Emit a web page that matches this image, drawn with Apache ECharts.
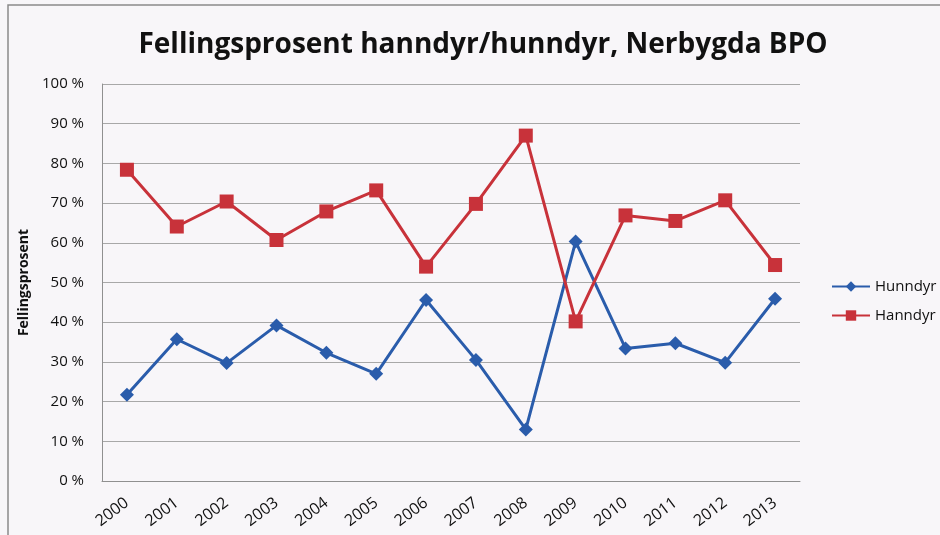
<!DOCTYPE html>
<html>
<head>
<meta charset="utf-8">
<script src="https://cdn.jsdelivr.net/npm/echarts@6/dist/echarts.min.js"></script>
<style>
html,body{margin:0;padding:0;background:#f8f6f9;}
#c{width:940px;height:535px;}
</style>
</head>
<body>
<div id="c"></div>
<script>
const years = ['2000','2001','2002','2003','2004','2005','2006','2007','2008','2009','2010','2011','2012','2013'];
const hunndyr = [21.7, 35.7, 29.7, 39.2, 32.3, 27.0, 45.6, 30.5, 13.0, 60.3, 33.4, 34.7, 29.8, 45.9];
const hanndyr = [78.4, 64.1, 70.4, 60.7, 67.9, 73.2, 54.0, 69.8, 87.0, 40.2, 66.9, 65.5, 70.7, 54.4];
const yTicks = [0, 10, 20, 30, 40, 50, 60, 70, 80, 90, 100];

const chart = echarts.init(document.getElementById('c'));
const font = 'Open Sans, Liberation Sans, sans-serif';
chart.setOption({
  backgroundColor: '#f8f6f9',
  animation: false,
  title: {
    text: 'Fellingsprosent hanndyr/hunndyr, Nerbygda BPO',
    left: 478, top: 26, textAlign: 'center',
    textStyle: {fontFamily: font, fontWeight: 'bold', fontSize: 28, color: '#111'}
  },
  graphic: [
    {type: 'rect', shape: {x: 8, y: 5, width: 940, height: 540}, style: {fill: 'none', stroke: '#8a8a8a', lineWidth: 1.5}, silent: true}
  ],
  legend: {
    orient: 'vertical', left: 826, top: 274, itemGap: 14,
    itemWidth: 38, itemHeight: 13,
    textStyle: {fontFamily: font, fontSize: 15, color: '#111'},
    data: ['Hunndyr', 'Hanndyr']
  },
  grid: {left: 102, right: 140, top: 84, bottom: 54},
  xAxis: {
    type: 'category', data: years, boundaryGap: true,
    axisLine: {lineStyle: {color: '#909090'}},
    axisTick: {show: false},
    axisLabel: {rotate: 37, fontFamily: font, fontSize: 16, color: '#111', margin: 20},
    splitLine: {show: false}
  },
  yAxis: {
    type: 'value', min: 0, max: 100, interval: 10,
    name: 'Fellingsprosent', nameLocation: 'middle', nameGap: 70, nameRotate: 90,
    nameTextStyle: {fontFamily: font, fontWeight: 'bold', fontSize: 14, color: '#111'},
    axisLine: {show: true, lineStyle: {color: '#909090'}},
    axisTick: {show: false},
    axisLabel: {fontFamily: font, fontSize: 15, color: '#111', margin: 18,
      formatter: v => yTicks.includes(v) ? v + ' %' : ''},
    splitLine: {lineStyle: {color: '#a8a8a8', width: 1}}
  },
  series: [
    {name: 'Hunndyr', type: 'line', data: hunndyr, symbol: 'diamond', symbolSize: 14,
      lineStyle: {color: '#2a5cab', width: 3}, itemStyle: {color: '#2a5cab'}},
    {name: 'Hanndyr', type: 'line', data: hanndyr, symbol: 'rect', symbolSize: 14,
      lineStyle: {color: '#c8323a', width: 3}, itemStyle: {color: '#c8323a'}}
  ]
});
</script>
</body>
</html>
